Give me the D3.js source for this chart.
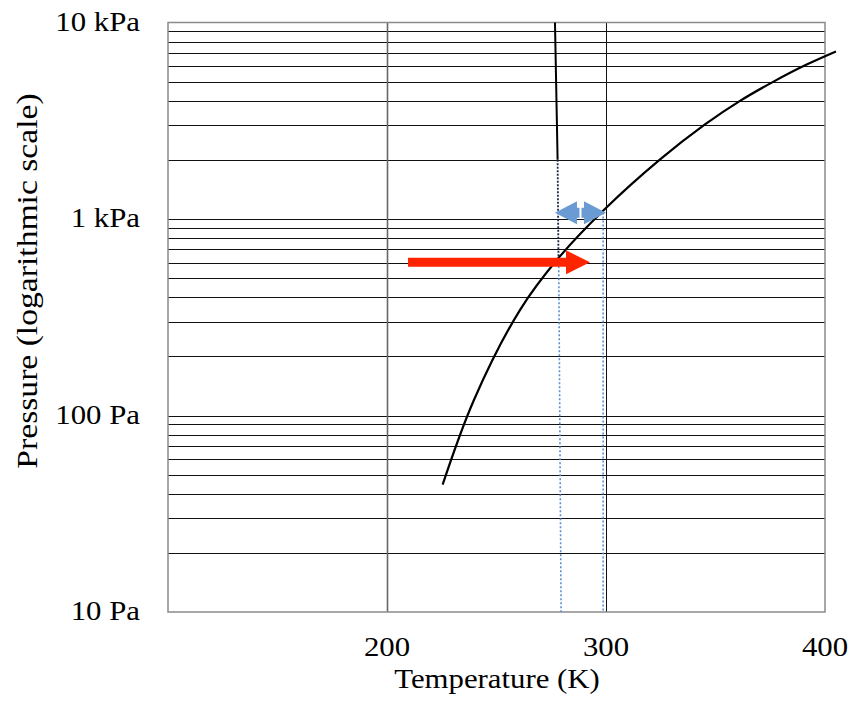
<!DOCTYPE html>
<html>
<head>
<meta charset="utf-8">
<script src="https://cdn.jsdelivr.net/npm/d3@7"></script>
<style>
    body { margin: 0; background: #fff; }
    text { font-family: "Liberation Serif", "Times New Roman", serif; fill: #000; }
</style>
</head>
<body>
<div id="chart"></div>
<script>
// Decade labels on the pressure axis
var pressureTicks = [10, 100, 1000, 10000];
var pressureLabels = ['10 Pa', '100 Pa', '1 kPa', '10 kPa'];

// Temperature axis
var tempTicks = [200, 300, 400];
var tempGrid = [200, 300];

// Vapour pressure curve (K, Pa)
var curveT = [225.4, 239.7, 260.7, 278.2, 299.5, 324.7, 345.2, 361.2, 376.3, 390.9, 405.0];
var curveP = [44.5, 120, 344, 631, 1124, 2010, 3029, 3992, 4988, 6053, 7117];

// Nearly vertical line (solid part, then dotted part)
var meltT = [276.7, 277.9];
var meltP = [10000, 2000];
var meltDotT = [277.9, 278.3];
var meltDotP = [2000, 631];

// Blue dotted drop lines
var dropT = [[278.4, 279.5], [298.7, 298.7]];
var dropP = [[631, 10], [1080, 10]];

// Arrows: start T, end T, pressure
var redArrow = {t0: 209.6, t1: 292.7, p: 602};
var blueArrow = {t0: 276.7, t1: 300.0, p: 1077};

var width = 850, height = 710;

var svg = d3.select('#chart')
    .append('svg')
    .attr('width', width)
    .attr('height', height);

var x = d3.scaleLinear().domain([100, 400]).range([168, 825]);
var y = d3.scaleLog().domain([10, 10000]).range([612, 22.5]);

// Horizontal grid: 1..9 in every decade
var gridP = [];
[10, 100, 1000].forEach(function(dec) {
    for (var k = 2; k <= 9; k++) gridP.push(k * dec);
    gridP.push(dec * 10);
});
gridP.pop(); // top border drawn by frame

svg.append('g')
    .selectAll('line')
    .data(gridP)
    .enter().append('line')
    .attr('x1', x(100))
    .attr('x2', x(400))
    .attr('y1', function(d) { return Math.round(y(d)) + 0.5; })
    .attr('y2', function(d) { return Math.round(y(d)) + 0.5; })
    .attr('stroke', '#111')
    .attr('stroke-width', 1.2);

// Vertical grid
svg.append('g')
    .selectAll('line')
    .data(tempGrid)
    .enter().append('line')
    .attr('x1', function(d) { return Math.round(x(d)) + 0.5; })
    .attr('x2', function(d) { return Math.round(x(d)) + 0.5; })
    .attr('y1', y(10000))
    .attr('y2', y(10))
    .attr('stroke', function(d, i) { return i === 0 ? '#666' : '#111'; })
    .attr('stroke-width', function(d, i) { return i === 0 ? 1.6 : 1; });

// Frame
svg.append('rect')
    .attr('x', x(100))
    .attr('y', y(10000))
    .attr('width', x(400) - x(100))
    .attr('height', y(10) - y(10000))
    .attr('fill', 'none')
    .attr('stroke', '#8a8a8a')
    .attr('stroke-width', 1.5);

var line = d3.line()
    .x(function(d) { return x(d[0]); })
    .y(function(d) { return y(d[1]); });

// Blue dotted drop lines
dropT.forEach(function(ts, i) {
    svg.append('path')
        .attr('d', line(d3.zip(ts, dropP[i])))
        .attr('fill', 'none')
        .attr('stroke', '#5b8fd6')
        .attr('stroke-width', 1.6)
        .attr('stroke-dasharray', '2,2');
});

// Melting line
svg.append('path')
    .attr('d', line(d3.zip(meltT, meltP)))
    .attr('fill', 'none')
    .attr('stroke', '#000')
    .attr('stroke-width', 2);

svg.append('path')
    .attr('d', line(d3.zip(meltDotT, meltDotP)))
    .attr('fill', 'none')
    .attr('stroke', '#1c2a48')
    .attr('stroke-width', 1.8)
    .attr('stroke-dasharray', '2,1.5');

// Vapour pressure curve
var smooth = d3.line()
    .x(function(d) { return x(d[0]); })
    .y(function(d) { return y(d[1]); })
    .curve(d3.curveCatmullRom.alpha(0.5));

svg.append('path')
    .attr('d', smooth(d3.zip(curveT, curveP)))
    .attr('fill', 'none')
    .attr('stroke', '#000')
    .attr('stroke-width', 2.2);

// Red arrow
(function() {
    var x0 = x(redArrow.t0), x1 = x(redArrow.t1), cy = y(redArrow.p);
    var sh = 4.5, hh = 12, hl = 24;
    var pts = [[x0, cy - sh], [x1 - hl, cy - sh], [x1 - hl, cy - hh], [x1, cy],
               [x1 - hl, cy + hh], [x1 - hl, cy + sh], [x0, cy + sh]];
    svg.append('polygon')
        .attr('points', pts.map(function(p) { return p.join(','); }).join(' '))
        .attr('fill', '#ff2400');
})();

// Blue double arrow
(function() {
    var x0 = x(blueArrow.t0), x1 = x(blueArrow.t1), cy = y(blueArrow.p);
    var sh = 5, hh = 11.5, hl = 22;
    var pts = [[x0, cy], [x0 + hl, cy - hh], [x0 + hl, cy - sh], [x1 - hl, cy - sh],
               [x1 - hl, cy - hh], [x1, cy], [x1 - hl, cy + hh], [x1 - hl, cy + sh],
               [x0 + hl, cy + sh], [x0 + hl, cy + hh]];
    svg.append('polygon')
        .attr('points', pts.map(function(p) { return p.join(','); }).join(' '))
        .attr('fill', '#6a9bd3');
    var mid = (x0 + x1) / 2;
    svg.append('line')
        .attr('x1', mid).attr('x2', mid)
        .attr('y1', cy - sh - 1).attr('y2', cy + sh + 1)
        .attr('stroke', '#fff')
        .attr('stroke-width', 2);
})();

// Pressure labels
svg.append('g')
    .selectAll('text')
    .data(pressureTicks)
    .enter().append('text')
    .attr('transform', function(d) { return 'translate(140,' + (y(d) + 8) + ') scale(1.1,1)'; })
    .attr('text-anchor', 'end')
    .style('font-size', '28px')
    .text(function(d, i) { return pressureLabels[i]; });

// Temperature labels
svg.append('g')
    .selectAll('text')
    .data(tempTicks)
    .enter().append('text')
    .attr('transform', function(d) { return 'translate(' + x(d) + ',656) scale(1.1,1)'; })
    .attr('text-anchor', 'middle')
    .style('font-size', '28px')
    .text(function(d) { return d; });

// Axis titles
svg.append('text')
    .attr('transform', 'translate(497,688) scale(1.1,1)')
    .attr('text-anchor', 'middle')
    .style('font-size', '28px')
    .text('Temperature (K)');

svg.append('text')
    .attr('transform', 'translate(37,281) rotate(-90) scale(1.16,1)')
    .attr('text-anchor', 'middle')
    .style('font-size', '29px')
    .text('Pressure (logarithmic scale)');
</script>
</body>
</html>
